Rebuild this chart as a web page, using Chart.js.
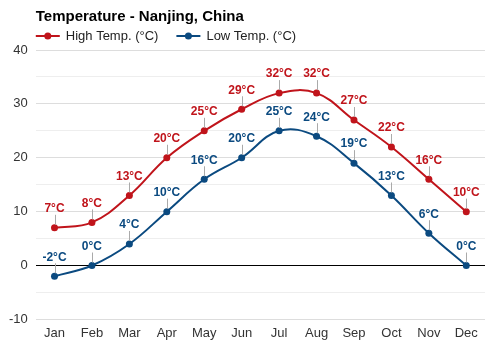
<!DOCTYPE html>
<html>
<head>
<meta charset="utf-8">
<script src="https://cdn.jsdelivr.net/npm/chart.js@4/dist/chart.umd.min.js"></script>
<style>
  html, body { margin: 0; padding: 0; background: #fff; }
  #wrap { width: 500px; height: 350px; }
</style>
</head>
<body>
<div id="wrap"><canvas id="tempChart"></canvas></div>
<script>
const months = ['Jan', 'Feb', 'Mar', 'Apr', 'May', 'Jun', 'Jul', 'Aug', 'Sep', 'Oct', 'Nov', 'Dec'];
const highTemps = [7, 8, 13, 20, 25, 29, 32, 32, 27, 22, 16, 10];
const lowTemps = [-2, 0, 4, 10, 16, 20, 25, 24, 19, 13, 6, 0];

const RED = '#c0141b';
const BLUE = '#0b4a80';
const FONT = '"Liberation Sans", Arial, sans-serif';

// подписи значений над точками + легенда
const valueLabels = {
    id: 'valueLabels',
    afterDatasetsDraw(chart) {
        const ctx = chart.ctx;
        ctx.save();
        chart.data.datasets.forEach((ds, i) => {
            const meta = chart.getDatasetMeta(i);
            meta.data.forEach((pt, j) => {
                ctx.strokeStyle = '#aaa';
                ctx.lineWidth = 1;
                ctx.beginPath();
                ctx.moveTo(Math.round(pt.x) + 0.5, pt.y - 3);
                ctx.lineTo(Math.round(pt.x) + 0.5, pt.y - 13);
                ctx.stroke();
                ctx.fillStyle = ds.borderColor;
                ctx.font = 'bold 12px ' + FONT;
                ctx.textAlign = 'center';
                ctx.textBaseline = 'bottom';
                ctx.fillText(ds.data[j] + '°C', pt.x, pt.y - 13);
            });
        });

        // легенда: линия с кружком и текст
        let x = chart.chartArea.left;
        const y = chart.chartArea.top - 14;
        ctx.font = '13px ' + FONT;
        ctx.textAlign = 'left';
        ctx.textBaseline = 'middle';
        chart.data.datasets.forEach(ds => {
            ctx.strokeStyle = ds.borderColor;
            ctx.lineWidth = 2;
            ctx.beginPath();
            ctx.moveTo(x, y);
            ctx.lineTo(x + 24, y);
            ctx.stroke();
            ctx.fillStyle = ds.borderColor;
            ctx.beginPath();
            ctx.arc(x + 12, y, 3.5, 0, Math.PI * 2);
            ctx.fill();
            ctx.fillStyle = '#222';
            ctx.fillText(ds.label, x + 30, y);
            x += 30 + ctx.measureText(ds.label).width + 18;
        });
        ctx.restore();
    }
};

const ctx = document.getElementById('tempChart').getContext('2d');
const tempChart = new Chart(ctx, {
    type: 'line',
    data: {
        labels: months,
        datasets: [
            {
                label: 'High Temp. (°C)',
                data: highTemps,
                borderColor: RED,
                backgroundColor: RED,
                borderWidth: 2,
                pointRadius: 3.5,
                pointBorderWidth: 0,
                tension: 0.4,
                fill: false
            },
            {
                label: 'Low Temp. (°C)',
                data: lowTemps,
                borderColor: BLUE,
                backgroundColor: BLUE,
                borderWidth: 2,
                pointRadius: 3.5,
                pointBorderWidth: 0,
                tension: 0.4,
                fill: false
            }
        ]
    },
    options: {
        responsive: true,
        maintainAspectRatio: false,
        animation: false,
        layout: { padding: { left: 1, right: 15, top: 0, bottom: 3 } },
        plugins: {
            title: {
                display: true,
                text: 'Temperature - Nanjing, China',
                align: 'start',
                fullSize: false,
                color: '#000',
                font: { family: FONT, size: 15, weight: 'bold' },
                padding: { top: 8, bottom: 24 }
            },
            legend: { display: false },
            tooltip: { enabled: false }
        },
        scales: {
            x: {
                offset: true,
                grid: { display: false, drawTicks: false },
                border: { display: false },
                ticks: {
                    color: '#333',
                    font: { family: FONT, size: 13 },
                    padding: 6
                }
            },
            y: {
                min: -10,
                max: 40,
                border: { display: false },
                grid: {
                    drawTicks: false,
                    color: c => c.tick.value === 0 ? '#000' : (c.tick.value % 10 === 0 ? '#ddd' : '#eee'),
                    lineWidth: 1
                },
                ticks: {
                    stepSize: 5,
                    color: '#333',
                    padding: 8,
                    font: { family: FONT, size: 13 },
                    callback: v => v % 10 === 0 ? v : ''
                }
            }
        }
    },
    plugins: [valueLabels]
});
</script>
</body>
</html>
